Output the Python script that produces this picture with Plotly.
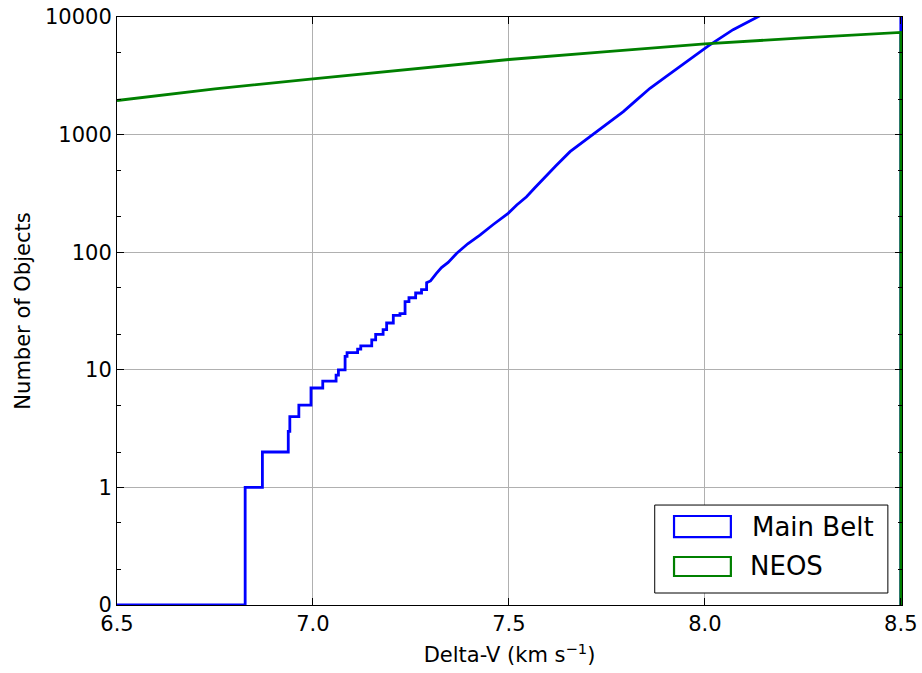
import plotly.graph_objects as go

# ---------------- data ----------------
# Main Belt: discrete cumulative steps (low counts)
mb_step_x = [6.827, 6.871, 6.937, 6.941, 6.964, 6.995, 7.025, 7.059, 7.065, 7.082,
             7.087, 7.114, 7.122, 7.150, 7.160, 7.179, 7.188, 7.205, 7.222, 7.235,
             7.245, 7.262, 7.277, 7.290]
mb_step_n = [1, 2, 3, 4, 5, 7, 8, 9, 10, 13,
             14, 15, 16, 18, 20, 22, 25, 29, 30, 38,
             41, 45, 48, 55]
# Main Belt: dense cumulative part
mb_smooth_x = [7.300, 7.315, 7.328, 7.345, 7.367, 7.395, 7.426, 7.460, 7.498, 7.520,
               7.545, 7.565, 7.592, 7.620, 7.656, 7.690, 7.715, 7.750, 7.792, 7.826,
               7.860, 7.900, 7.936, 7.970, 8.008, 8.072, 8.132, 8.200, 8.300, 8.400, 8.500]
mb_smooth_n = [57, 66, 74, 82, 98, 118, 140, 172, 214, 252,
               296, 350, 438, 544, 716, 870, 1000, 1222, 1567, 1972,
               2477, 3090, 3780, 4570, 5660, 7800, 10000, 13000, 19000, 26000, 34000]

# NEOS cumulative
neo_x = [6.50, 6.75, 7.00, 7.25, 7.50, 7.75, 8.00, 8.25, 8.50]
neo_n = [1950, 2450, 2980, 3600, 4350, 5080, 5900, 6650, 7400]

x_min, x_max = 6.5, 8.5
y_ticks = [0.1, 1, 10, 100, 1000, 10000]
y_ticktext = ["0", "1", "10", "100", "1000", "10000"]
x_ticks = [6.5, 7.0, 7.5, 8.0, 8.5]
x_ticktext = ["6.5", "7.0", "7.5", "8.0", "8.5"]
FLOOR = 0.1  # where a count of zero is drawn ("0" tick)

def show(n):
    return n if n > 0 else FLOOR

# build step outline for Main Belt
bx = [x_min]
by = [show(0)]
prev = 0
for x, n in zip(mb_step_x, mb_step_n):
    bx += [x, x]
    by += [show(prev), show(n)]
    prev = n
bx += mb_smooth_x + [mb_smooth_x[-1]]
by += mb_smooth_n + [show(0)]

gx = neo_x + [neo_x[-1]]
gy = neo_n + [show(0)]

BLUE = "#0000ff"
GREEN = "#008000"
FONT = "DejaVu Sans"

fig = go.Figure()
fig.add_trace(go.Scatter(x=bx, y=by, mode="lines", name="Main Belt",
                         line=dict(color=BLUE, width=2.8), showlegend=False))
fig.add_trace(go.Scatter(x=gx, y=gy, mode="lines", name="NEOS",
                         line=dict(color=GREEN, width=2.8), showlegend=False))

axis_common = dict(showline=True, linecolor="black", linewidth=1, mirror="ticks",
                   ticks="inside", tickcolor="black", ticklen=7, automargin=False,
                   showgrid=True, gridcolor="#b0b0b0", gridwidth=1, zeroline=False,
                   tickfont=dict(family=FONT, size=21, color="black"))

fig.update_xaxes(range=[x_min, x_max + 0.003], tickvals=x_ticks, ticktext=x_ticktext,
                 title=dict(text="Delta-V (km s<sup>−1</sup>)",
                            font=dict(family=FONT, size=21, color="black"), standoff=12),
                 **axis_common)
fig.update_yaxes(type="log", range=[-1, 4], tickvals=y_ticks, ticktext=y_ticktext,
                 title=dict(text="Number of Objects",
                            font=dict(family=FONT, size=21, color="black"), standoff=8),
                 minor=dict(ticks="inside", ticklen=4, tickcolor="black", showgrid=False),
                 **axis_common)

# matplotlib-style legend with outlined rectangles
shapes = [
    dict(type="rect", xref="paper", yref="paper", x0=0.685, x1=0.982, y0=0.0204, y1=0.170,
         line=dict(color="black", width=1), fillcolor="white", layer="above"),
    dict(type="rect", xref="paper", yref="paper", x0=0.7096, x1=0.782, y0=0.1156, y1=0.1514,
         line=dict(color=BLUE, width=2.2), fillcolor="rgba(0,0,0,0)", layer="above"),
    dict(type="rect", xref="paper", yref="paper", x0=0.7096, x1=0.782, y0=0.0493, y1=0.0816,
         line=dict(color=GREEN, width=2.2), fillcolor="rgba(0,0,0,0)", layer="above"),
]
annotations = [
    dict(text="Main Belt", xref="paper", yref="paper", x=0.806, y=0.133, xanchor="left",
         yanchor="middle", showarrow=False, font=dict(family=FONT, size=26, color="black")),
    dict(text="NEOS", xref="paper", yref="paper", x=0.804, y=0.0663, xanchor="left",
         yanchor="middle", showarrow=False, font=dict(family=FONT, size=26, color="black")),
]

fig.update_layout(width=922, height=673, margin=dict(l=117, r=20, t=17, b=68),
                  paper_bgcolor="white", plot_bgcolor="white",
                  shapes=shapes, annotations=annotations, showlegend=False,
                  font=dict(family=FONT))

fig.write_html("out.html")
